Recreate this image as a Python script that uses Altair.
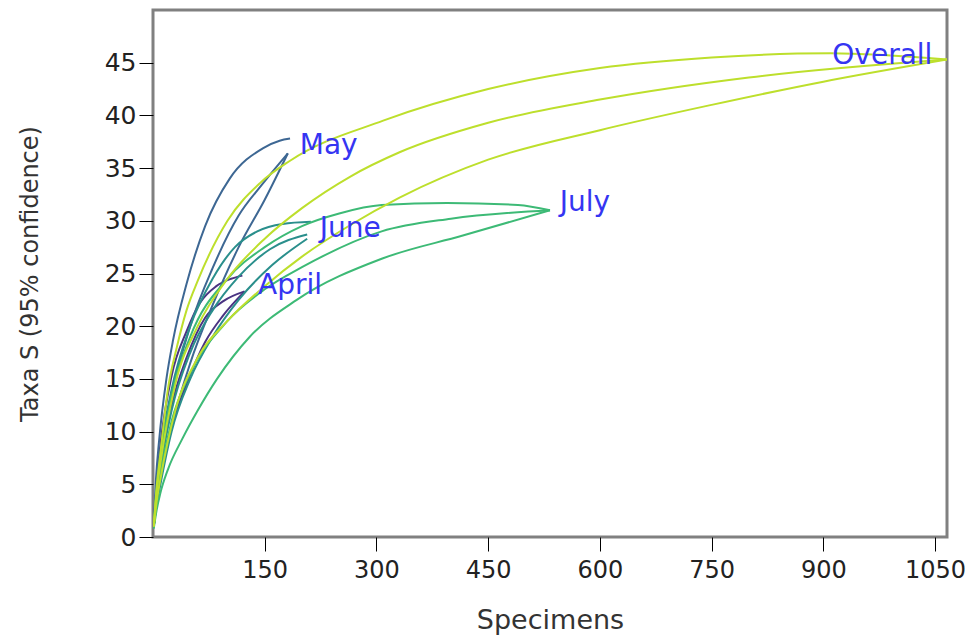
import altair as alt
import pandas as pd

# ---------------- data ----------------
# April
april_upper_n = [1, 5, 10, 25, 45, 63, 85, 105, 120]
april_upper_s = [1, 5.2, 8.8, 15.3, 19.5, 22.2, 23.8, 24.5, 24.8]
april_mean_n = [1, 5, 10, 25, 45, 70, 95, 123]
april_mean_s = [1, 4.2, 7, 12.5, 17, 20.8, 22.4, 23.3]
april_lower_n = [1, 5, 10, 25, 45, 70, 94, 123]
april_lower_s = [1, 3.3, 5.5, 10.5, 14.5, 18.5, 21.0, 23.3]

# May
may_upper_n = [1, 4, 8, 18, 27, 45, 70, 103, 148, 170, 184]
may_upper_s = [1, 5.5, 9, 15, 18.7, 24, 29.5, 34, 36.9, 37.6, 37.8]
may_mean_n = [1, 5, 10, 27, 50, 80, 115, 146, 181]
may_mean_s = [1, 4.3, 7, 14, 20, 25.5, 30.5, 33.4, 36.4]
may_lower_n = [1, 5, 10, 27, 50, 80, 115, 150, 181]
may_lower_s = [1, 3.4, 5.5, 11, 16.5, 22, 27.5, 32, 36.4]

# June
june_upper_n = [1, 5, 10, 25, 50, 80, 110, 140, 174, 212]
june_upper_s = [1, 4.8, 8, 14, 20, 24.5, 27.5, 29, 29.7, 29.9]
june_mean_n = [1, 5, 10, 25, 50, 80, 115, 157, 207]
june_mean_s = [1, 4, 6.5, 12, 17.5, 21.5, 24.7, 27.3, 28.7]
june_lower_n = [1, 5, 10, 25, 50, 80, 115, 160, 207]
june_lower_s = [1, 3.1, 5, 10, 15, 19, 22.5, 25.8, 28.3]

# July
july_upper_n = [1, 5, 10, 25, 50, 100, 150, 200, 250, 307, 395, 490, 533]
july_upper_s = [1, 4.5, 7.5, 13.5, 19, 24.5, 27.5, 29.5, 30.7, 31.5, 31.7, 31.5, 31.0]
july_mean_n = [1, 5, 10, 25, 50, 100, 150, 200, 307, 400, 533]
july_mean_s = [1, 3.7, 6, 11, 15.5, 20.5, 23.5, 25.6, 29.0, 30.2, 31.0]
july_lower_n = [1, 5, 10, 20, 40, 60, 86, 130, 193, 307, 416, 533]
july_lower_s = [0.8, 2.6, 4.2, 6.4, 9.4, 12.0, 15.0, 19.0, 22.5, 26.4, 28.6, 31.0]

# Overall
overall_upper_n = [1, 5, 10, 20, 32, 45, 60, 100, 144, 184, 309, 450, 600, 750, 910, 1066]
overall_upper_s = [1, 4.8, 8, 14, 18, 21.5, 24.3, 30, 33.6, 35.7, 39.5, 42.5, 44.5, 45.5, 45.9, 45.3]
overall_mean_n = [1, 5, 10, 30, 60, 100, 150, 200, 265, 331, 450, 600, 800, 1066]
overall_mean_s = [1, 4.3, 7, 14.5, 20, 24.5, 28.3, 31.2, 34.2, 36.5, 39.3, 41.5, 43.6, 45.3]
overall_lower_n = [1, 5, 10, 30, 60, 100, 150, 200, 265, 331, 450, 600, 750, 900, 1066]
overall_lower_s = [1, 3.4, 5.5, 12, 17, 20.5, 23.8, 26.6, 29.6, 32.2, 35.8, 38.6, 41, 43.2, 45.3]

# curve labels
label_text = ["April", "May", "June", "July", "Overall"]
label_n = [141, 197, 224, 546, 912]
label_s = [23.8, 37.1, 29.2, 31.7, 45.6]

x_ticks = [150, 300, 450, 600, 750, 900, 1050]
y_ticks = [0, 5, 10, 15, 20, 25, 30, 35, 40, 45]

# ---------------- build table ----------------
curves = [
    ("April", "upper", april_upper_n, april_upper_s),
    ("April", "mean", april_mean_n, april_mean_s),
    ("April", "lower", april_lower_n, april_lower_s),
    ("May", "upper", may_upper_n, may_upper_s),
    ("May", "mean", may_mean_n, may_mean_s),
    ("May", "lower", may_lower_n, may_lower_s),
    ("June", "upper", june_upper_n, june_upper_s),
    ("June", "mean", june_mean_n, june_mean_s),
    ("June", "lower", june_lower_n, june_lower_s),
    ("July", "upper", july_upper_n, july_upper_s),
    ("July", "mean", july_mean_n, july_mean_s),
    ("July", "lower", july_lower_n, july_lower_s),
    ("Overall", "upper", overall_upper_n, overall_upper_s),
    ("Overall", "mean", overall_mean_n, overall_mean_s),
    ("Overall", "lower", overall_lower_n, overall_lower_s),
]
rows = []
for sample, kind, ns, ss in curves:
    for i, (n, s) in enumerate(zip(ns, ss)):
        rows.append({"sample": sample, "curve": sample + "-" + kind, "n": n, "s": s, "i": i})
df = pd.DataFrame(rows)
labels = pd.DataFrame({"text": label_text, "n": label_n, "s": label_s})

FONT = "DejaVu Sans"

x_scale = alt.Scale(domain=[0, 1066], nice=False, zero=False)
y_scale = alt.Scale(domain=[0, 50], nice=False)

color_scale = alt.Scale(
    domain=["April", "May", "June", "July", "Overall"],
    range=["#4a3382", "#3d6793", "#2a8f8c", "#3dba76", "#bddf2c"],
)

lines = alt.Chart(df).mark_line(interpolate="monotone", strokeWidth=2, clip=True).encode(
    x=alt.X(
        "n:Q",
        scale=x_scale,
        axis=alt.Axis(
            values=x_ticks,
            format="d",
            title="Specimens",
            grid=False,
            domain=False,
            tickSize=14,
            tickColor="#000000",
            labelFont=FONT,
            labelFontSize=24,
            labelColor="#222222",
            labelPadding=7,
            titleFont=FONT,
            titleFontSize=27,
            titleFontWeight="normal",
            titleColor="#333333",
            titlePadding=25,
        ),
    ),
    y=alt.Y(
        "s:Q",
        scale=y_scale,
        axis=alt.Axis(
            values=y_ticks,
            title="Taxa S (95% confidence)",
            grid=False,
            domain=False,
            tickSize=14,
            tickColor="#000000",
            labelFont=FONT,
            labelFontSize=25,
            labelColor="#222222",
            labelPadding=3,
            titleFont=FONT,
            titleFontSize=24,
            titleFontWeight="normal",
            titleColor="#333333",
            titlePadding=62,
        ),
    ),
    color=alt.Color("sample:N", scale=color_scale, legend=None),
    detail="curve:N",
    order="i:Q",
)

text = alt.Chart(labels).mark_text(
    align="left", baseline="middle", font=FONT, fontSize=28, color="#3535f2"
).encode(
    x=alt.X("n:Q", scale=x_scale),
    y=alt.Y("s:Q", scale=y_scale),
    text="text:N",
)

chart = (
    alt.layer(lines, text)
    .properties(
        width=794,
        height=527,
        autosize=alt.AutoSizeParams(type="none"),
        padding={"left": 145, "top": 2, "right": 18, "bottom": 100},
    )
    .configure_view(stroke="#808080", strokeWidth=3)
)

chart.save("out.html", embed_options={"renderer": "svg", "actions": False})
